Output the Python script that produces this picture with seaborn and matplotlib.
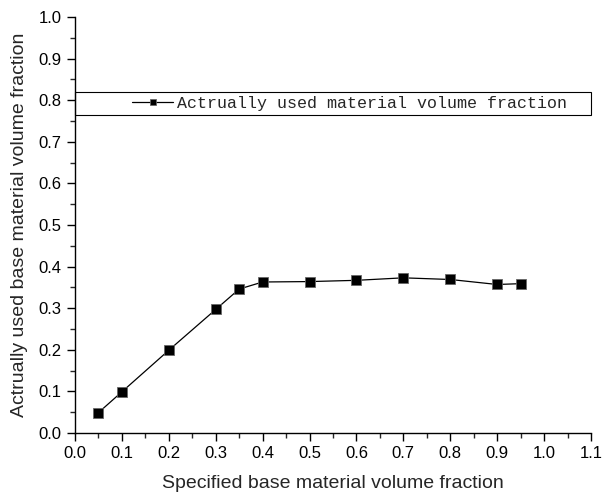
import numpy as np
import matplotlib
matplotlib.use("Agg")
import matplotlib.pyplot as plt
import seaborn as sns
from matplotlib.patches import Rectangle
from matplotlib.ticker import MultipleLocator, FormatStrFormatter

# datos
specified_fraction = [0.05, 0.1, 0.2, 0.3, 0.35, 0.4, 0.5, 0.6, 0.7, 0.8, 0.9, 0.95]
used_fraction = [0.049, 0.099, 0.199, 0.297, 0.346, 0.363, 0.364, 0.367, 0.373, 0.369, 0.357, 0.359]
series_label = "Actrually used material volume fraction"
x_label = "Specified base material volume fraction"
y_label = "Actrually used base material volume fraction"

sns.set_style("ticks")
plt.rcParams['font.family'] = ['Liberation Sans', 'DejaVu Sans']

fig = plt.figure(figsize=(6.02, 4.97), dpi=100)
ax = fig.add_axes([75 / 602, 64 / 497, 516 / 602, 416 / 497])

sns.lineplot(x=specified_fraction, y=used_fraction, ax=ax, color='black',
             linewidth=0.9, marker='s', markersize=6.5, markeredgecolor='#666666',
             markeredgewidth=0.6, label=series_label)

ax.set_xlim(0, 1.1)
ax.set_ylim(0, 1.0)
ax.xaxis.set_major_locator(MultipleLocator(0.1))
ax.yaxis.set_major_locator(MultipleLocator(0.1))
ax.xaxis.set_minor_locator(MultipleLocator(0.05))
ax.yaxis.set_minor_locator(MultipleLocator(0.05))
ax.xaxis.set_major_formatter(FormatStrFormatter('%.1f'))
ax.yaxis.set_major_formatter(FormatStrFormatter('%.1f'))
ax.tick_params(which='major', direction='out', length=6, width=1, pad=3.5,
               labelsize=12, colors='black')
ax.tick_params(which='minor', direction='out', length=3.5, width=1)
for s in ['top', 'right']:
    ax.spines[s].set_visible(False)
for s in ['left', 'bottom']:
    ax.spines[s].set_linewidth(1)
    ax.spines[s].set_color('black')

ax.set_xlabel(x_label, fontsize=14, labelpad=10)
ax.set_ylabel(y_label, fontsize=14, labelpad=8)

# caja de la leyenda a todo lo ancho
ax.add_patch(Rectangle((0, 0.765), 1.0, 0.055, transform=ax.transAxes,
                       fill=False, edgecolor='black', linewidth=0.8, clip_on=False))
ax.legend(loc='center left', bbox_to_anchor=(0.110, 0.7925), frameon=False,
          borderpad=0, borderaxespad=0, handlelength=2.5, handletextpad=0.2,
          markerscale=0.75, prop={'family': 'Liberation Mono', 'size': 12})

fig.savefig("out.png", dpi=100)
